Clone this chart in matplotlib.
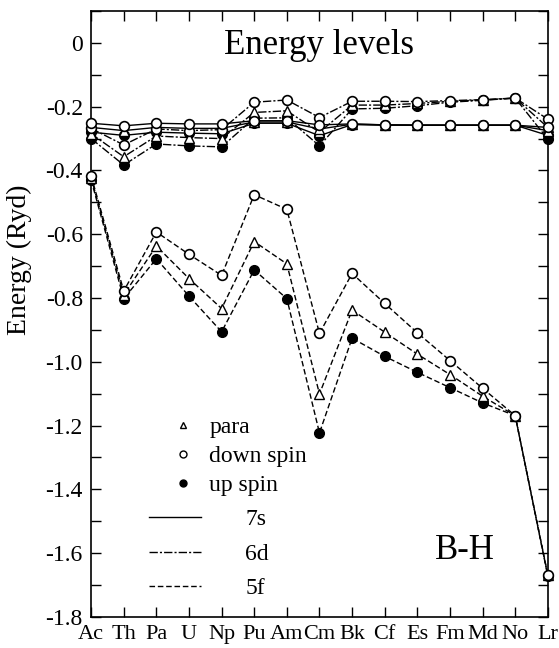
import matplotlib
matplotlib.use("Agg")
import matplotlib.pyplot as plt
from matplotlib.lines import Line2D
from matplotlib.ticker import MultipleLocator

plt.rcParams['font.family'] = ['Liberation Serif', 'DejaVu Serif']
plt.rcParams['axes.unicode_minus'] = False

elements = ["Ac", "Th", "Pa", "U", "Np", "Pu", "Am", "Cm", "Bk", "Cf", "Es", "Fm", "Md", "No", "Lr"]

# 5f levels
f5_down = [-0.417, -0.778, -0.593, -0.663, -0.729, -0.476, -0.522, -0.911, -0.723, -0.817, -0.909, -0.996, -1.083, -1.169, -1.668]
f5_para = [-0.423, -0.790, -0.637, -0.739, -0.833, -0.623, -0.693, -1.101, -0.838, -0.907, -0.976, -1.040, -1.108, -1.169, -1.670]
f5_up   = [-0.430, -0.802, -0.677, -0.794, -0.906, -0.712, -0.802, -1.223, -0.926, -0.983, -1.033, -1.081, -1.129, -1.169, -1.672]

# 6d levels
d6_down = [-0.268, -0.320, -0.270, -0.275, -0.272, -0.186, -0.179, -0.234, -0.183, -0.183, -0.184, -0.181, -0.178, -0.173, -0.239]
d6_para = [-0.285, -0.357, -0.292, -0.297, -0.300, -0.218, -0.213, -0.280, -0.195, -0.195, -0.190, -0.183, -0.179, -0.173, -0.265]
d6_up   = [-0.300, -0.383, -0.317, -0.323, -0.326, -0.236, -0.235, -0.323, -0.207, -0.205, -0.197, -0.186, -0.180, -0.173, -0.302]

# 7s levels
s7_down = [-0.252, -0.260, -0.252, -0.254, -0.254, -0.244, -0.244, -0.257, -0.254, -0.257, -0.258, -0.258, -0.258, -0.258, -0.265]
s7_para = [-0.265, -0.275, -0.265, -0.268, -0.268, -0.248, -0.248, -0.270, -0.255, -0.257, -0.258, -0.258, -0.258, -0.258, -0.275]
s7_up   = [-0.280, -0.290, -0.280, -0.283, -0.285, -0.252, -0.252, -0.291, -0.256, -0.258, -0.258, -0.258, -0.258, -0.258, -0.290]

yticks = [0, -0.2, -0.4, -0.6, -0.8, -1.0, -1.2, -1.4, -1.6, -1.8]
ytick_labels = ["0", "-0.2", "-0.4", "-0.6", "-0.8", "-1.0", "-1.2", "-1.4", "-1.6", "-1.8"]

fig = plt.figure(figsize=(5.59, 6.48), dpi=100)
ax = fig.add_axes([0.163, 0.048, 0.817, 0.935])

x = list(range(len(elements)))
styles = {"7s": "-", "6d": (0, (6, 1.5, 1.5, 1.5)), "5f": (0, (4, 2))}
ms = 7
lw = 1.0

def draw(vals_up, vals_para, vals_down, ls):
    ax.plot(x, vals_up, linestyle=ls, color='black', lw=lw, marker='o', ms=ms,
            mfc='black', mec='black', zorder=2, clip_on=False)
    ax.plot(x, vals_para, linestyle=ls, color='black', lw=lw, marker='^', ms=ms,
            mfc='white', mec='black', mew=1.0, zorder=3, clip_on=False)
    ax.plot(x, vals_down, linestyle=ls, color='black', lw=lw, marker='o', ms=ms,
            mfc='white', mec='black', mew=1.2, zorder=4, clip_on=False)

draw(f5_up, f5_para, f5_down, styles["5f"])
draw(d6_up, d6_para, d6_down, styles["6d"])
draw(s7_up, s7_para, s7_down, styles["7s"])

ax.set_xlim(0, 14)
ax.set_ylim(-1.8, 0.1)
ax.set_xticks(x)
ax.set_xticklabels(elements, fontsize=16)
ax.set_yticks(yticks)
ax.set_yticklabels(ytick_labels, fontsize=17)
ax.yaxis.set_minor_locator(MultipleLocator(0.1))
ax.tick_params(which='both', direction='in', top=True, right=True, width=1)
ax.tick_params(which='major', length=7)
ax.tick_params(which='minor', length=7)
ax.tick_params(axis='x', pad=6)
ax.tick_params(axis='y', pad=6)
for sp in ax.spines.values():
    sp.set_linewidth(1.2)

ax.set_ylabel("Energy (Ryd)", fontsize=20)
ax.yaxis.set_label_coords(-0.13, 0.59)

ax.text(0.5, 0.943, "Energy levels", transform=ax.transAxes, ha='center', va='center', fontsize=25)
ax.text(0.818, 0.11, "B-H", transform=ax.transAxes, ha='center', va='center', fontsize=25)

h1 = [Line2D([], [], ls='none', marker='^', ms=5, mfc='white', mec='black'),
      Line2D([], [], ls='none', marker='o', ms=5, mfc='white', mec='black'),
      Line2D([], [], ls='none', marker='o', ms=5, mfc='black', mec='black')]
leg1 = ax.legend(h1, ["para", "down spin", "up spin"], loc='upper left',
                 bbox_to_anchor=(0.15, 0.35), frameon=False, fontsize=17,
                 handlelength=1.0, handletextpad=0.6, labelspacing=0.32, borderpad=0)
ax.add_artist(leg1)
h2 = [Line2D([], [], ls=styles["7s"], color='black', lw=1),
      Line2D([], [], ls=styles["6d"], color='black', lw=1),
      Line2D([], [], ls=styles["5f"], color='black', lw=1)]
ax.legend(h2, ["7s", "6d", "5f"], loc='upper left', bbox_to_anchor=(0.10, 0.198),
          frameon=False, fontsize=17, handlelength=2.2, handletextpad=1.9,
          labelspacing=0.55, borderpad=0)

fig.savefig("out.png", dpi=100)
